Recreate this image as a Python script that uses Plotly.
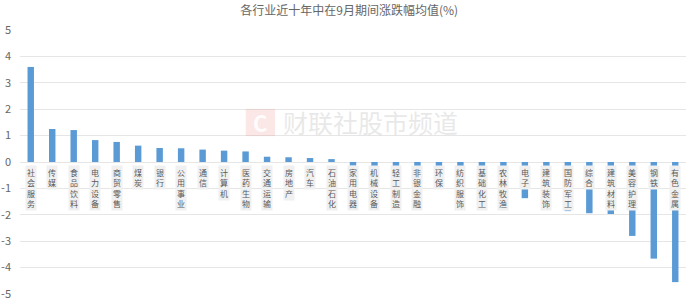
import plotly.graph_objects as go

categories = ["社会服务", "传媒", "食品饮料", "电力设备", "商贸零售", "煤炭", "银行", "公用事业",
              "通信", "计算机", "医药生物", "交通运输", "房地产", "汽车", "石油石化", "家用电器",
              "机械设备", "轻工制造", "非银金融", "环保", "纺织服饰", "基础化工", "农林牧渔", "电子",
              "建筑装饰", "国防军工", "综合", "建筑材料", "美容护理", "钢铁", "有色金属"]
values = [3.60, 1.25, 1.21, 0.83, 0.76, 0.62, 0.53, 0.52,
          0.47, 0.43, 0.40, 0.20, 0.18, 0.15, 0.11, -0.14,
          -0.21, -0.21, -0.22, -0.22, -0.22, -0.23, -0.23, -1.37,
          -1.50, -1.86, -1.94, -1.97, -2.80, -3.66, -4.55]
y_ticks = [5, 4, 3, 2, 1, 0, -1, -2, -3, -4, -5]
title_text = "各行业近十年中在9月期间涨跌幅均值(%)"
watermark = "财联社股市频道"

FONT = "Noto Sans CJK SC, Microsoft YaHei, sans-serif"
TXT = "#666666"

fig = go.Figure()
fig.add_trace(go.Bar(x=list(range(len(categories))), y=values,
                     marker=dict(color="#5b9bd5", line=dict(width=0)),
                     hoverinfo="skip"))

shapes = []
annotations = []
for i, name in enumerate(categories):
    annotations.append(dict(x=i, y=0, xref="x", yref="y", text="<br>".join(name),
                            showarrow=False, yanchor="top", xanchor="center",
                            yshift=-3, bgcolor="#f0f0f0", borderpad=1,
                            font=dict(family=FONT, size=8, color="#595959")))

# watermark
shapes.append(dict(type="rect", xref="paper", yref="paper",
                   x0=0.339, x1=0.383, y0=0.598, y1=0.701, layer="above",
                   fillcolor="rgba(240,120,120,0.18)", line=dict(width=0)))
annotations.append(dict(x=0.361, y=0.65, xref="paper", yref="paper", text="<b>C</b>",
                        showarrow=False, font=dict(family=FONT, size=22,
                                                   color="rgba(255,255,255,0.9)")))
annotations.append(dict(x=0.527, y=0.65, xref="paper", yref="paper", text=watermark,
                        showarrow=False, font=dict(family=FONT, size=25,
                                                   color="rgba(190,190,190,0.35)")))

fig.update_layout(
    width=693, height=304,
    margin=dict(l=20, r=7, t=30, b=10, autoexpand=False),
    paper_bgcolor="white", plot_bgcolor="white",
    showlegend=False,
    bargap=0.7,
    title=dict(text=title_text, x=0.504, xref="container", xanchor="center",
               y=1 - 11 / 304, yref="container", yanchor="middle",
               font=dict(family=FONT, size=12, color=TXT)),
    xaxis=dict(type="linear", range=[-0.5, len(categories) - 0.5], automargin=False,
               showticklabels=False, showgrid=False, zeroline=False, ticks=""),
    yaxis=dict(range=[-5, 5], tickvals=y_ticks, ticktext=[str(v) for v in y_ticks],
               automargin=False,
               showgrid=True, gridcolor="#e6e6e6", gridwidth=1,
               zeroline=False, ticks="", ticklabelstandoff=8,
               tickfont=dict(family=FONT, size=11, color=TXT)),
    shapes=shapes, annotations=annotations,
)

fig.write_html("out.html")
